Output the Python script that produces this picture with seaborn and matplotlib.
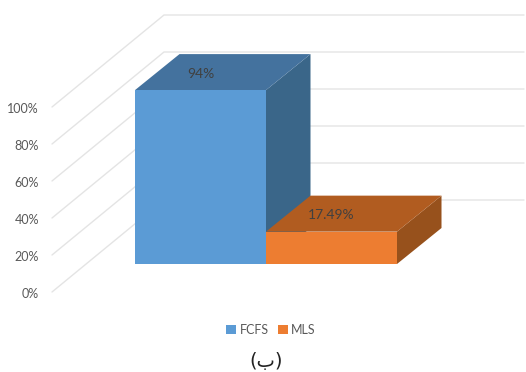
import matplotlib
matplotlib.use("Agg")
import matplotlib.pyplot as plt
import pandas as pd
import seaborn as sns
from matplotlib.patches import Polygon

schedulers = ["FCFS", "MLS"]
percentages = [94, 17.49]
value_labels = ["94%", "17.49%"]
front_colors = ["#5B9BD5", "#ED7D31"]
top_colors = ["#44729E", "#B15C20"]
side_colors = ["#3A6689", "#97511C"]
wall_ticks = [0, 20, 40, 60, 80, 100]
wall_tick_labels = ["0%", "20%", "40%", "60%", "80%", "100%"]

# Canvas geometry, in pixels
W, H = 526, 372
PX_PER_CATEGORY = 131
PX_PER_PERCENT = 1.85
FIRST_CENTRE_PX = 200.5
BASELINE_PX = 264


def xval(px):
    return (px - FIRST_CENTRE_PX) / PX_PER_CATEGORY


def yval(py):
    return (BASELINE_PX - py) / PX_PER_PERCENT


# Extrusion of the bars and of the wall, as data offsets
BAR_DX = 44.5 / PX_PER_CATEGORY
BAR_DY = 36 / PX_PER_PERCENT
WALL_DX = 112 / PX_PER_CATEGORY
WALL_DY = 92 / PX_PER_PERCENT
FLOOR_LEFT = xval(52)
FLOOR_FRONT = yval(292)
WALL_RIGHT = xval(524)
LABEL_NUDGE = 1.6 / PX_PER_PERCENT

sns.set_theme(style="white")
plt.rcParams["font.family"] = ["Lato", "DejaVu Sans"]

fig = plt.figure(figsize=(W / 100, H / 100), dpi=100)
ax = fig.add_axes([0, 0, 1, 1])

df = pd.DataFrame({"scheduler": schedulers, "value": percentages})
sns.barplot(
    data=df, x="scheduler", y="value", hue="scheduler", hue_order=schedulers,
    palette=front_colors, width=1, dodge=False, legend=True, ax=ax, zorder=4,
    saturation=1, linewidth=0,
)
ax.set_xlim(xval(0), xval(W))
ax.set_ylim(yval(H), yval(0))
ax.axis("off")

# Gridlines folded across the side wall and the back wall
for tick, label in zip(wall_ticks, wall_tick_labels):
    base = FLOOR_FRONT + tick
    ax.plot(
        [FLOOR_LEFT, FLOOR_LEFT + WALL_DX, WALL_RIGHT],
        [base, base + WALL_DY, base + WALL_DY],
        color="#E4E4E4", lw=1.0, zorder=1, solid_joinstyle="miter",
    )
    ax.text(xval(39), base - LABEL_NUDGE, label, ha="right", va="center",
            fontsize=9, color="#595959")

# Top and side faces of each bar
for i, value in enumerate(percentages):
    left, right = i - 0.5, i + 0.5
    ax.add_patch(Polygon(
        [(right, 0), (right + BAR_DX, BAR_DY),
         (right + BAR_DX, value + BAR_DY), (right, value)],
        closed=True, facecolor=side_colors[i], edgecolor="none", zorder=3,
    ))
    ax.add_patch(Polygon(
        [(left, value), (right, value),
         (right + BAR_DX, value + BAR_DY), (left + BAR_DX, value + BAR_DY)],
        closed=True, facecolor=top_colors[i], edgecolor="none", zorder=3.5,
    ))
    ax.text(i, value + BAR_DY / 2 - LABEL_NUDGE, value_labels[i],
            ha="center", va="center", fontsize=10, color="#404040", zorder=6)

sns.move_legend(
    ax, "center", bbox_to_anchor=(0.5 + 8 / W, 1 - 330 / H), bbox_transform=fig.transFigure,
    ncol=2, frameon=False, title=None, fontsize=9, handlelength=0.8, handleheight=0.8,
    columnspacing=0.7, handletextpad=0.3, labelcolor="#595959",
)

ax.text(xval(266), yval(361), "(ب)", ha="center", va="center",
        fontsize=14, color="#222222", family=["DejaVu Sans"])

fig.savefig("out.png", dpi=100)
